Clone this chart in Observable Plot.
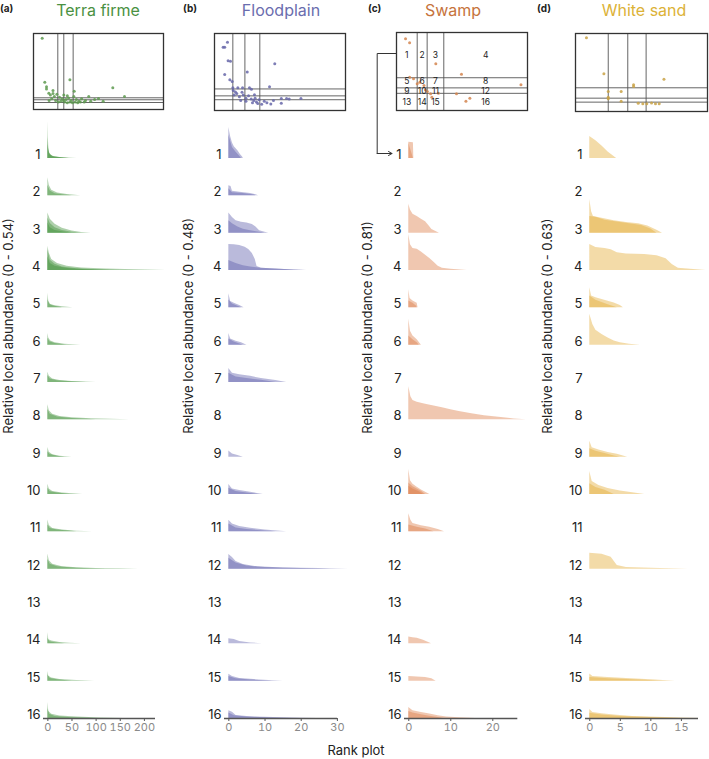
<!DOCTYPE html>
<html><head><meta charset="utf-8">
<script src="https://cdn.jsdelivr.net/npm/d3@7"></script>
<script src="https://cdn.jsdelivr.net/npm/@observablehq/plot@0.6"></script>
<style>
body{margin:0;background:#fff;}
#root{position:relative;width:709px;height:759px;font-family:Inter,"Noto Sans",sans-serif;color:#222;overflow:hidden;}
.title{position:absolute;font-size:16px;line-height:16px;transform:translateX(-50%);white-space:nowrap;top:2px;}
.tag{position:absolute;font-size:10px;line-height:10px;font-weight:700;top:3px;}
</style></head>
<body><div id="root"></div>
<script>
// ---------- DATA ----------
const rows = d3.range(1, 17);
const habitats = ["Terra firme", "Floodplain", "Swamp", "White sand"];
const tags = ["(a)", "(b)", "(c)", "(d)"];
const maxAbundance = [0.54, 0.48, 0.81, 0.63];
const xTicks = [[0, 50, 100, 150, 200], [0, 10, 20, 30], [0, 10, 20], [0, 5, 10, 15]];
const xLabel = "Rank plot";

// rank-abundance curves per row: [row, [[rank, relative abundance], ...]]
const terraCurves = [
  [1, [[0,0.53],[1,0.3],[2,0.15],[4,0.07],[8,0.04],[15,0.02],[30,0.01],[43,0]]],
  [1, [[0,0.3],[2,0.12],[5,0.05],[12,0.025],[30,0.01],[60,0]]],
  [1, [[0,0.2],[3,0.08],[10,0.03],[25,0.01],[45,0]]],
  [2, [[0,0.26],[3,0.15],[8,0.08],[20,0.04],[40,0.02],[68,0]]],
  [2, [[0,0.15],[5,0.07],[15,0.03],[30,0.015],[50,0]]],
  [3, [[0,0.29],[5,0.2],[15,0.13],[30,0.07],[50,0.03],[70,0.01],[90,0]]],
  [3, [[0,0.22],[5,0.14],[15,0.08],[30,0.04],[50,0.015],[70,0]]],
  [3, [[0,0.15],[5,0.08],[15,0.04],[30,0.02],[50,0]]],
  [4, [[0,0.35],[3,0.25],[8,0.16],[20,0.1],[40,0.06],[70,0.035],[120,0.02],[180,0.01],[245,0]]],
  [4, [[0,0.3],[5,0.15],[15,0.09],[30,0.05],[60,0.025],[100,0.012],[150,0]]],
  [4, [[0,0.2],[5,0.1],[15,0.06],[40,0.03],[80,0.012],[130,0]]],
  [5, [[0,0.21],[2,0.09],[6,0.05],[15,0.03],[30,0.015],[52,0]]],
  [5, [[0,0.12],[4,0.05],[12,0.025],[30,0]]],
  [6, [[0,0.17],[2,0.1],[6,0.06],[15,0.035],[35,0.015],[68,0]]],
  [6, [[0,0.1],[4,0.05],[15,0.025],[40,0]]],
  [7, [[0,0.15],[3,0.09],[10,0.05],[25,0.03],[50,0.015],[100,0]]],
  [7, [[0,0.1],[5,0.05],[20,0.025],[50,0.01],[80,0]]],
  [8, [[0,0.22],[3,0.13],[10,0.08],[25,0.05],[50,0.03],[90,0.015],[130,0.007],[170,0]]],
  [8, [[0,0.15],[5,0.08],[20,0.04],[50,0.02],[100,0]]],
  [9, [[0,0.14],[3,0.07],[10,0.035],[25,0.015],[50,0]]],
  [9, [[0,0.08],[5,0.04],[20,0.015],[35,0]]],
  [10, [[0,0.15],[3,0.08],[10,0.045],[30,0.02],[72,0]]],
  [10, [[0,0.09],[5,0.04],[20,0.02],[45,0]]],
  [11, [[0,0.17],[3,0.09],[10,0.05],[30,0.025],[60,0.01],[93,0]]],
  [11, [[0,0.1],[5,0.05],[20,0.025],[60,0]]],
  [12, [[0,0.22],[3,0.12],[10,0.07],[30,0.035],[60,0.02],[100,0.01],[150,0.005],[187,0]]],
  [12, [[0,0.14],[5,0.07],[20,0.035],[60,0.015],[120,0]]],
  [14, [[0,0.16],[2,0.06],[8,0.04],[25,0.02],[45,0.01],[70,0]]],
  [14, [[0,0.08],[4,0.03],[15,0.015],[35,0]]],
  [15, [[0,0.14],[2,0.07],[8,0.045],[25,0.025],[60,0.01],[97,0]]],
  [15, [[0,0.09],[5,0.04],[20,0.02],[50,0]]],
  [16, [[0,0.23],[2,0.1],[8,0.06],[25,0.035],[60,0.02],[110,0.008],[157,0]]],
  [16, [[0,0.14],[4,0.06],[15,0.03],[50,0.012],[100,0]]]
];
const floodCurves = [
  [1, [[0,0.4],[0.5,0.28],[1,0.2],[1.5,0.15],[2.5,0.1],[3.2,0.05],[3.8,0.02],[4,0]]],
  [1, [[0,0.3],[1,0.14],[2,0.08],[3,0.03],[3.5,0]]],
  [2, [[0,0.13],[0.6,0.12],[1,0.06],[3,0.045],[6,0.03],[7.5,0.015],[8.2,0]]],
  [2, [[0,0.09],[1,0.04],[4,0.03],[7,0.01],[7.5,0]]],
  [3, [[0,0.26],[1,0.2],[2,0.16],[3.5,0.14],[5,0.13],[6.5,0.11],[7.5,0.08],[8.5,0.03],[11,0]]],
  [3, [[0,0.16],[1,0.12],[2.5,0.08],[4,0.05],[6,0.03],[9,0.01],[10,0]]],
  [4, [[0,0.335],[1.5,0.33],[3,0.32],[4.5,0.3],[5.5,0.27],[6.5,0.22],[7.3,0.14],[7.8,0.05],[9,0.03],[14,0.015],[18,0.006],[21.7,0]]],
  [4, [[0,0.13],[2,0.09],[4,0.06],[6,0.045],[9,0.03],[13,0.018],[18,0.008],[21,0]]],
  [5, [[0,0.18],[0.5,0.08],[1.5,0.06],[3,0.03],[4.2,0]]],
  [5, [[0,0.1],[1,0.05],[2.5,0.02],[3.5,0]]],
  [6, [[0,0.15],[0.5,0.08],[2,0.05],[3.5,0.03],[5,0]]],
  [6, [[0,0.08],[1.5,0.04],[4,0]]],
  [7, [[0,0.18],[1,0.12],[3,0.1],[6,0.08],[9,0.05],[13,0.025],[16,0]]],
  [7, [[0,0.12],[2,0.07],[5,0.05],[9,0.03],[13,0]]],
  [9, [[0,0.08],[1,0.04],[2.5,0.02],[4,0]]],
  [10, [[0,0.13],[1,0.07],[3,0.05],[6,0.03],[9.5,0]]],
  [10, [[0,0.08],[2,0.04],[5,0.02],[8,0]]],
  [11, [[0,0.15],[1,0.1],[3,0.07],[6,0.045],[10,0.025],[16,0]]],
  [11, [[0,0.1],[2,0.05],[5,0.03],[10,0.01],[13,0]]],
  [12, [[0,0.19],[1,0.15],[2,0.1],[4,0.06],[8,0.03],[15,0.015],[25,0.007],[33,0]]],
  [12, [[0,0.14],[2,0.08],[5,0.04],[10,0.02],[20,0.008],[28,0]]],
  [14, [[0,0.065],[1.5,0.055],[3,0.03],[6,0.012],[9.3,0]]],
  [15, [[0,0.09],[1,0.06],[3,0.035],[7,0.02],[11,0.01],[15,0]]],
  [15, [[0,0.06],[2,0.03],[6,0.015],[12,0]]],
  [16, [[0,0.1],[1,0.08],[2,0.04],[5,0.025],[10,0.015],[17,0.008],[24.5,0]]],
  [16, [[0,0.07],[1.5,0.035],[5,0.018],[12,0.008],[20,0]]]
];
const swampCurves = [
  [1, [[0,0.35],[1.1,0.34],[1.2,0]]],
  [1, [[0,0.33],[1,0.03],[1.1,0]]],
  [3, [[0,0.63],[0.4,0.5],[1,0.41],[2,0.36],[3,0.3],[4,0.25],[4.8,0.16],[5.5,0.08],[7.3,0]]],
  [4, [[0,0.78],[0.4,0.56],[1,0.48],[2,0.46],[3,0.4],[4,0.33],[5,0.26],[6,0.18],[7,0.09],[8,0.05],[10,0.025],[13.9,0]]],
  [5, [[0,0.39],[0.3,0.2],[1,0.15],[2,0.1],[2.2,0]]],
  [5, [[0,0.15],[1,0.1],[1.8,0.04],[2,0]]],
  [6, [[0,0.56],[0.4,0.3],[1,0.2],[2,0.12],[3,0]]],
  [6, [[0,0.2],[1,0.12],[2,0.05],[2.5,0]]],
  [8, [[0,0.72],[0.5,0.5],[1,0.42],[2,0.38],[4,0.34],[6,0.3],[8,0.26],[10,0.22],[12,0.18],[15,0.13],[18,0.09],[22,0.05],[25,0.02],[28,0]]],
  [10, [[0,0.54],[0.4,0.3],[1,0.22],[2,0.16],[3,0.1],[4,0.05],[5,0]]],
  [10, [[0,0.25],[1,0.17],[2,0.12],[3,0.07],[4,0]]],
  [10, [[0,0.18],[1,0.12],[2.5,0.06],[3.5,0]]],
  [11, [[0,0.39],[0.5,0.25],[1,0.18],[3,0.13],[5,0.1],[7,0.05],[8.5,0]]],
  [11, [[0,0.15],[2,0.1],[4,0.06],[6,0]]],
  [14, [[0,0.15],[1,0.13],[2,0.12],[3.5,0.08],[5,0.02],[5.4,0]]],
  [15, [[0,0.1],[2,0.09],[4,0.08],[5.5,0.05],[6.5,0]]],
  [16, [[0,0.24],[1,0.17],[3,0.13],[5,0.1],[7,0.06],[9,0.03],[12,0.015],[15.9,0]]],
  [16, [[0,0.15],[1,0.12],[3,0.08],[5,0.05],[7,0.02],[8.3,0]]]
];
const sandCurves = [
  [1, [[0,0.37],[1,0.3],[2,0.21],[3,0.11],[4.4,0]]],
  [3, [[0,0.57],[0.3,0.36],[0.6,0.28],[2,0.25],[4,0.21],[6,0.18],[8,0.16],[9.5,0.12],[11,0.05],[11.9,0]]],
  [3, [[0,0.28],[1,0.27],[2.5,0.22],[4.5,0.19],[6.5,0.16],[8.5,0.13],[10,0.07],[11,0]]],
  [4, [[0,0.44],[1,0.39],[2.5,0.37],[3.5,0.35],[4.5,0.3],[6,0.28],[9,0.27],[11,0.25],[12.5,0.2],[13.5,0.1],[14.5,0.04],[17,0.015],[19,0]]],
  [5, [[0,0.34],[0.3,0.2],[1,0.17],[2,0.14],[3,0.11],[4,0.08],[5,0.04],[5.5,0]]],
  [5, [[0,0.2],[1,0.13],[2,0.09],[3,0.05],[4.5,0]]],
  [6, [[0,0.52],[0.5,0.35],[1,0.25],[2,0.18],[3,0.12],[4,0.07],[5,0.04],[6.5,0.015],[8.3,0]]],
  [9, [[0,0.27],[0.4,0.16],[1.5,0.12],[3,0.08],[4.5,0.05],[6.2,0]]],
  [9, [[0,0.14],[1,0.1],[2.5,0.06],[4,0.02],[5,0]]],
  [10, [[0,0.39],[0.4,0.22],[1.5,0.15],[3,0.1],[5,0.06],[7,0.03],[9,0]]],
  [10, [[0,0.18],[1,0.12],[2.5,0.07],[4,0]]],
  [12, [[0,0.27],[2,0.25],[3.5,0.2],[4.5,0.06],[6,0.03],[10,0.015],[16.1,0]]],
  [15, [[0,0.12],[0.5,0.08],[3,0.06],[6,0.045],[10,0.025],[14,0]]],
  [15, [[0,0.06],[3,0.04],[8,0.02],[12,0]]],
  [16, [[0,0.15],[0.5,0.1],[2,0.08],[4,0.06],[7,0.035],[11,0.02],[15,0.01],[18.1,0]]],
  [16, [[0,0.09],[2,0.06],[5,0.035],[10,0.015],[15,0]]]
];

// inset scatter: species positions (relative units 0-1) and the class thresholds
const terraDots = [[0.067,0.937],[0.28,0.39],[0.087,0.36],[0.61,0.285],[0.70,0.17],[0.313,0.24],[0.10,0.30],[0.10,0.27],[0.15,0.25],[0.118,0.215],[0.13,0.19],[0.16,0.17],[0.18,0.20],[0.233,0.19],[0.20,0.16],[0.22,0.14],[0.25,0.13],[0.27,0.15],[0.29,0.12],[0.31,0.17],[0.33,0.13],[0.35,0.11],[0.37,0.14],[0.40,0.12],[0.425,0.17],[0.44,0.11],[0.50,0.145],[0.39,0.10],[0.536,0.11],[0.17,0.12],[0.19,0.10],[0.21,0.11],[0.24,0.10],[0.26,0.09],[0.28,0.10],[0.30,0.09],[0.32,0.10],[0.34,0.09],[0.36,0.10],[0.14,0.14],[0.12,0.12],[0.23,0.12],[0.15,0.21],[0.26,0.18],[0.47,0.13]];
const floodDots = [[0.066,0.82],[0.078,0.82],[0.099,0.887],[0.104,0.645],[0.122,0.64],[0.46,0.606],[0.25,0.50],[0.078,0.468],[0.117,0.40],[0.135,0.377],[0.42,0.31],[0.14,0.295],[0.178,0.295],[0.214,0.295],[0.267,0.295],[0.282,0.277],[0.143,0.26],[0.21,0.238],[0.305,0.204],[0.51,0.155],[0.55,0.155],[0.57,0.15],[0.66,0.155],[0.51,0.095],[0.43,0.085],[0.36,0.08],[0.15,0.2],[0.17,0.22],[0.19,0.18],[0.22,0.2],[0.24,0.16],[0.26,0.19],[0.28,0.15],[0.3,0.13],[0.32,0.11],[0.34,0.14],[0.38,0.12],[0.4,0.1],[0.2,0.13],[0.24,0.12],[0.16,0.24],[0.29,0.1],[0.33,0.09],[0.45,0.13],[0.31,0.16]];
const swampDots = [[0.069,0.92],[0.10,0.868],[0.30,0.60],[0.496,0.465],[0.10,0.427],[0.13,0.406],[0.158,0.342],[0.178,0.363],[0.21,0.32],[0.22,0.265],[0.235,0.243],[0.26,0.214],[0.27,0.17],[0.32,0.22],[0.458,0.214],[0.56,0.158],[0.53,0.119],[0.95,0.33]];
const sandDots = [[0.083,0.945],[0.215,0.483],[0.67,0.414],[0.44,0.342],[0.44,0.32],[0.248,0.256],[0.346,0.256],[0.248,0.184],[0.248,0.163],[0.346,0.132],[0.475,0.106],[0.51,0.1],[0.54,0.1],[0.576,0.108],[0.606,0.1],[0.634,0.1]];
const terraCutX = [0.187, 0.233, 0.305], terraCutY = [0.154, 0.128, 0.092];
const floodCutX = [0.14, 0.232, 0.346], floodCutY = [0.28, 0.19, 0.14];
const swampCutX = [0.158, 0.234, 0.361], swampCutY = [0.42, 0.29, 0.22];
const sandCutX = [0.248, 0.396, 0.535], sandCutY = [0.304, 0.171, 0.12];
const cellLabels = d3.range(1, 17).map(String);

// ---------- LAYOUT / STYLE ----------
const fillColors = ["#3f8f36", "#5b5ba9", "#db7a43", "#e2a930"];
const titleColors = ["#4a9142", "#6a6dae", "#c6733c", "#dcb237"];
const dotColors = ["#5e9a50", "#6767a9", "#d4854f", "#c9a245"];
const layout = [
  {left: 0, width: 180, axis: [43, 155], domain: [-9, 223], labelX: 8, titleX: 98, tagX: 0,
   inset: {x: 33, y: 33, w: 130, h: 76}, curves: terraCurves, dots: terraDots, cx: terraCutX, cy: terraCutY},
  {left: 180, width: 175, axis: [224, 337], domain: [-1.2, 30.03], labelX: 188, titleX: 281, tagX: 183,
   inset: {x: 214, y: 33, w: 131, h: 77}, curves: floodCurves, dots: floodDots, cx: floodCutX, cy: floodCutY},
  {left: 355, width: 175, axis: [404, 517.3], domain: [-1.02, 25.95], labelX: 367.5, titleX: 453, tagX: 368,
   inset: {x: 396, y: 32, w: 131, h: 78}, curves: swampCurves, dots: swampDots, cx: swampCutX, cy: swampCutY, cells: true},
  {left: 530, width: 179, axis: [585, 698], domain: [-0.7, 17.8], labelX: 547, titleX: 644, tagX: 537,
   inset: {x: 575, y: 33, w: 132, h: 78}, curves: sandCurves, dots: sandDots, cx: sandCutX, cy: sandCutY}
];
const connector = [[396, 53], [376.7, 53], [376.7, 153]];
const connectorArrow = [[376.7, 153, 391.5, 153]];

const root = document.getElementById("root");
const TOP = 110, H = 649, YTOP = 10.67, YBOT = 608;

function place(el, x, y) { el.style.position = "absolute"; el.style.left = x + "px"; el.style.top = y + "px"; root.appendChild(el); }

layout.forEach((L, i) => {
  const max = maxAbundance[i];
  const t = document.createElement("div"); t.className = "title"; t.textContent = habitats[i];
  t.style.left = L.titleX + "px"; t.style.color = titleColors[i]; root.appendChild(t);
  const g = document.createElement("div"); g.className = "tag"; g.textContent = tags[i];
  g.style.left = L.tagX + "px"; root.appendChild(g);

  // ridgeline panel
  const area = [];
  L.curves.forEach(([row, pts], k) => pts.forEach(([x, v]) => area.push({c: k, x, y1: 16 - row, y2: 16 - row + v / max})));
  const mL = L.axis[0] - L.left, mR = L.left + L.width - L.axis[1];
  const p = Plot.plot({
    width: L.width, height: H,
    marginLeft: mL, marginRight: mR, marginTop: YTOP, marginBottom: H - YBOT,
    style: {fontFamily: "Inter, 'Noto Sans', sans-serif", overflow: "visible", background: "transparent"},
    x: {domain: L.domain, axis: null},
    y: {domain: [0, 16], axis: null},
    marks: [
      Plot.area(area, {x1: "x", y1: "y1", y2: "y2", z: "c", fill: fillColors[i], fillOpacity: 0.42, curve: "linear"}),
      Plot.ruleY([0], {stroke: "#555", strokeWidth: 1.6}),
      Plot.axisX({ticks: xTicks[i], tickSize: 3, tickPadding: 2, fontSize: 11, color: "#8a8a8a", stroke: "#555", label: null, tickFormat: d => String(d)}),
      Plot.text(rows, {y: r => 16 - r, text: r => String(r), frameAnchor: "left", textAnchor: "end", lineAnchor: "bottom", dx: -3, dy: 0.5, fontSize: 13, fill: "#222"}),
      Plot.text([`Relative local abundance (0 - ${max})`], {y: [7.63], frameAnchor: "left", rotate: -90, dx: L.labelX - L.axis[0], fontSize: 13, fill: "#222"})
    ]
  });
  place(p, L.left, TOP);

  // inset scatter
  const I = L.inset;
  const colB = [0, ...L.cx, 1], rowB = [1, ...L.cy, 0];
  const rowShift = [0, 0.024, -0.013, 0];
  const cells = [];
  if (L.cells) {
    cellLabels.forEach((lab, k) => {
      const r = Math.floor(k / 4), c = k % 4;
      cells.push({x: (colB[c] + colB[c + 1]) / 2, y: (rowB[r] + rowB[r + 1]) / 2 + rowShift[r], lab});
    });
  }
  const ins = Plot.plot({
    width: I.w + 2, height: I.h + 2, margin: 1,
    style: {fontFamily: "Inter, 'Noto Sans', sans-serif", overflow: "visible", background: "transparent"},
    x: {domain: [0, 1], axis: null}, y: {domain: [0, 1], axis: null},
    marks: [
      Plot.ruleX(L.cx, {stroke: "#555", strokeWidth: 0.9}),
      Plot.ruleY(L.cy, {stroke: "#555", strokeWidth: 0.9}),
      Plot.dot(L.dots, {x: d => d[0], y: d => d[1], r: 1.5, fill: dotColors[i], fillOpacity: 0.85, stroke: "none"}),
      Plot.text(cells, {x: "x", y: "y", text: "lab", fontSize: 8.5, fill: "#222"}),
      Plot.frame({stroke: "#333", strokeWidth: 1.3})
    ]
  });
  place(ins, I.x - 1, I.y - 1);
});

const xl = document.createElement("div"); xl.textContent = xLabel;
xl.style.cssText = "position:absolute;left:356px;top:742px;transform:translateX(-50%);font-size:13px;color:#222;white-space:nowrap;";
root.appendChild(xl);

// connector from swamp inset cell 1 to row 1
const ov = Plot.plot({
  width: 709, height: 759, margin: 0,
  style: {background: "transparent", pointerEvents: "none"},
  x: {domain: [0, 709], range: [0, 709], axis: null},
  y: {domain: [0, 759], range: [0, 759], axis: null},
  marks: [
    Plot.line(connector, {x: d => d[0], y: d => d[1], stroke: "#333", strokeWidth: 1}),
    Plot.arrow(connectorArrow, {x1: d => d[0], y1: d => d[1], x2: d => d[2], y2: d => d[3], stroke: "#333", strokeWidth: 1, headLength: 6})
  ]
});
place(ov, 0, 0);
</script></body></html>
